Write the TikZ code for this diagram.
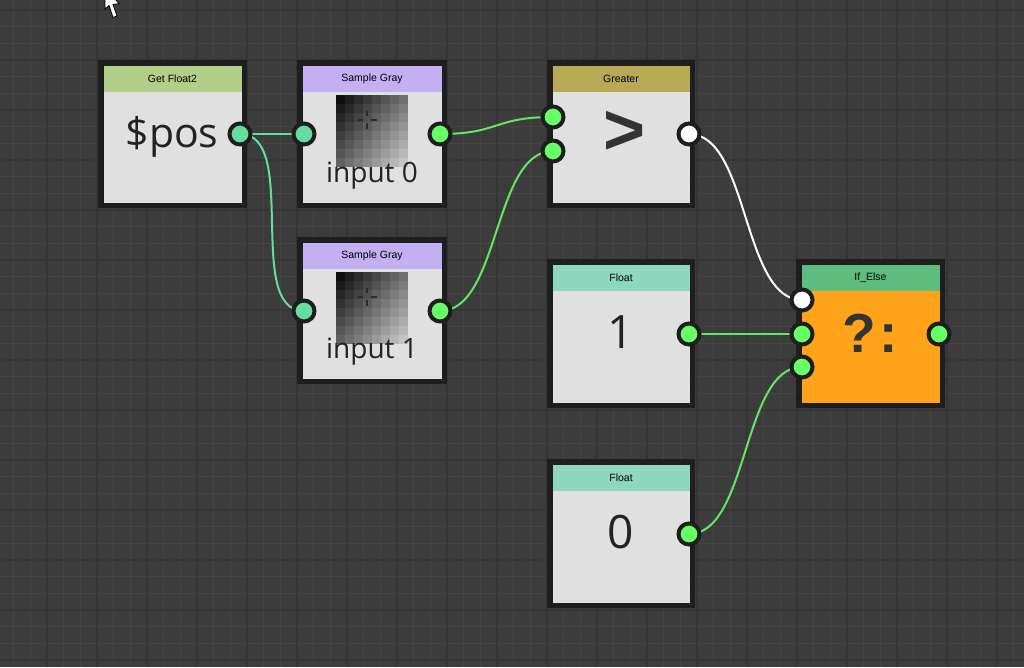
\documentclass[tikz,border=0pt]{standalone}
\usepackage{fontspec}
\setmainfont{Liberation Sans}
\newfontfamily\bigfont{Open Sans}
\definecolor{bgc}{HTML}{3C3C3C}
\definecolor{minorc}{HTML}{454545}
\definecolor{majorc}{HTML}{353535}
\definecolor{borderc}{HTML}{1E1E1E}
\definecolor{bodyc}{HTML}{E0E0E0}
\definecolor{hfloattwo}{HTML}{B3CE88}
\definecolor{hsample}{HTML}{C4AFF3}
\definecolor{hgreater}{HTML}{B8A955}
\definecolor{hfloat}{HTML}{8FD6BE}
\definecolor{hifelse}{HTML}{5EBD7E}
\definecolor{orangec}{HTML}{FFA31A}
\definecolor{tealc}{HTML}{66DDA0}
\definecolor{greenc}{HTML}{66FF66}
\definecolor{wgreen}{HTML}{62E862}
\definecolor{bigtext}{HTML}{222222}
\definecolor{symtext}{HTML}{333333}
\definecolor{crossc}{HTML}{2C2C2C}
\pgfdeclarelayer{bg}
\pgfdeclarelayer{wires}
\pgfsetlayers{bg,wires,main}
\tikzset{
  boxn/.style={draw=borderc, line width=5.5pt, inner sep=0pt, rectangle},
  title/.style={font=\fontsize{10.5}{12}\selectfont, text=black, inner sep=0pt},
  port/.style={circle, draw=borderc, line width=4pt, minimum size=21pt, inner sep=0pt},
  wire/.style={line width=2pt},
  minorline/.style={minorc, line width=1pt},
  majorline/.style={majorc, line width=2pt},
}
\newcommand\mkbox[8]{%
  \node[boxn, fill=#7, minimum width={#4-#2-5.5}, minimum height={#5-#3-5.5}] (#1) at ({(#2+#4)/2},{(#3+#5)/2}) {};
  \fill[#6] ({#2+5.5},{#3+5.5}) rectangle ({#4-5.5},{#3+32});
  \node[title] (#1-title) at ({(#2+#4)/2},{#3+19}) {#8};
}
\newcommand\mkthumb[2]{%
  \foreach \i in {0,...,7}{\foreach \j in {0,...,7}{%
    \pgfmathsetmacro\v{6+5.5*\i+4.6*\j}%
    \fill[white!\v!black] ({#1+9*\i},{#2+9*\j}) rectangle +(9,9);}}%
  \draw[crossc, line width=1.2pt] ({#1+22},{#2+25}) -- ({#1+27},{#2+25}) ({#1+35},{#2+25}) -- ({#1+41},{#2+25})
        ({#1+31},{#2+16}) -- ({#1+31},{#2+21}) ({#1+31},{#2+28}) -- ({#1+31},{#2+34});
}
\begin{document}
\begin{tikzpicture}[x=1pt, y=-1pt]
\useasboundingbox (0,0) rectangle (1024,667);
% background grid
\begin{pgfonlayer}{bg}
\fill[bgc] (0,0) rectangle (1024,667);
\foreach \k in {-3,...,61}{\pgfmathsetmacro\xx{46.667+\k*16.6667}\draw[minorline] (\xx,0) -- (\xx,667);}
\foreach \k in {-1,...,40}{\pgfmathsetmacro\yy{10+\k*16.6667}\draw[minorline] (0,\yy) -- (1024,\yy);}
\foreach \k in {-1,...,20}{\pgfmathsetmacro\xx{46.667+\k*50}\draw[majorline] (\xx,0) -- (\xx,667);}
\foreach \k in {0,...,13}{\pgfmathsetmacro\yy{10+\k*50}\draw[majorline] (0,\yy) -- (1024,\yy);}
\end{pgfonlayer}

% boxes
\mkbox{getf}{98}{60}{247}{208}{hfloattwo}{bodyc}{Get Float2}
\mkbox{sgz}{297}{60}{447}{208}{hsample}{bodyc}{Sample Gray}
\mkbox{sgo}{297}{237}{447}{384}{hsample}{bodyc}{Sample Gray}
\mkbox{gr}{547}{60}{695}{208}{hgreater}{bodyc}{Greater}
\mkbox{fo}{547}{259}{695}{408}{hfloat}{bodyc}{Float}
\mkbox{fz}{547}{459}{695}{608}{hfloat}{bodyc}{Float}
\mkbox{ie}{796}{259}{945}{408}{hifelse}{orangec}{If\_Else}

% thumbnails
\mkthumb{336}{95}
\mkthumb{336}{272}

% body texts
\node[font=\bigfont\fontsize{41}{41}\selectfont, text=bigtext, anchor=base, inner sep=0pt] (posT) at (172,147) {\$pos};
\node[font=\bigfont\fontsize{28}{28}\selectfont, text=bigtext, anchor=base, inner sep=0pt] (inz) at (372,182) {input 0};
\node[font=\bigfont\fontsize{28}{28}\selectfont, text=bigtext, anchor=base, inner sep=0pt] (ino) at (372,358) {input 1};
\node[font=\bfseries\fontsize{72}{72}\selectfont, text=symtext, inner sep=0pt] (gtT) at (625,133) {>};
\node[font=\bigfont\fontsize{46}{46}\selectfont, text=bigtext, anchor=base, inner sep=0pt] (oneT) at (621,348) {1};
\node[font=\bigfont\fontsize{46}{46}\selectfont, text=bigtext, anchor=base, inner sep=0pt] (zeroT) at (621,548) {0};
\node[font=\bfseries\fontsize{55}{55}\selectfont, text=symtext, anchor=base, inner sep=0pt] (qT) at (870,352) {?\kern4pt:};

% ports
\node[port, fill=tealc] (getf-out) at (240,134) {};
\node[port, fill=tealc] (sgz-in) at (304,134) {};
\node[port, fill=greenc] (sgz-out) at (440,134) {};
\node[port, fill=tealc] (sgo-in) at (304,311) {};
\node[port, fill=greenc] (sgo-out) at (440,311) {};
\node[port, fill=greenc] (gr-ina) at (553,117) {};
\node[port, fill=greenc] (gr-inb) at (553,151) {};
\node[port, fill=white] (gr-out) at (689,134) {};
\node[port, fill=greenc] (fo-out) at (689,334) {};
\node[port, fill=greenc] (fz-out) at (689,534) {};
\node[port, fill=white] (ie-ina) at (802,300) {};
\node[port, fill=greenc] (ie-inb) at (802,334) {};
\node[port, fill=greenc] (ie-inc) at (802,367) {};
\node[port, fill=greenc] (ie-out) at (939,334) {};

% wires
\begin{pgfonlayer}{wires}
\draw[wire, tealc] (getf-out.center) -- (sgz-in.center);
\draw[wire, tealc] (getf-out.center) .. controls +(60,0) and +(-60,0) .. (sgo-in.center);
\draw[wire, wgreen] (sgz-out.center) .. controls +(60,0) and +(-60,0) .. (gr-ina.center);
\draw[wire, wgreen] (sgo-out.center) .. controls +(60,0) and +(-60,0) .. (gr-inb.center);
\draw[wire, white] (gr-out.center) .. controls +(60,0) and +(-60,0) .. (ie-ina.center);
\draw[wire, wgreen] (fo-out.center) -- (ie-inb.center);
\draw[wire, wgreen] (fz-out.center) .. controls +(60,0) and +(-60,0) .. (ie-inc.center);
\end{pgfonlayer}

% mouse cursor
\fill[white, draw=black, line width=0.8pt] (105,-12) -- (105,9) -- (109,5.5) -- (113,17.5) -- (117,16) -- (113,4.5) -- (119,3.5) -- cycle;
\end{tikzpicture}
\end{document}
